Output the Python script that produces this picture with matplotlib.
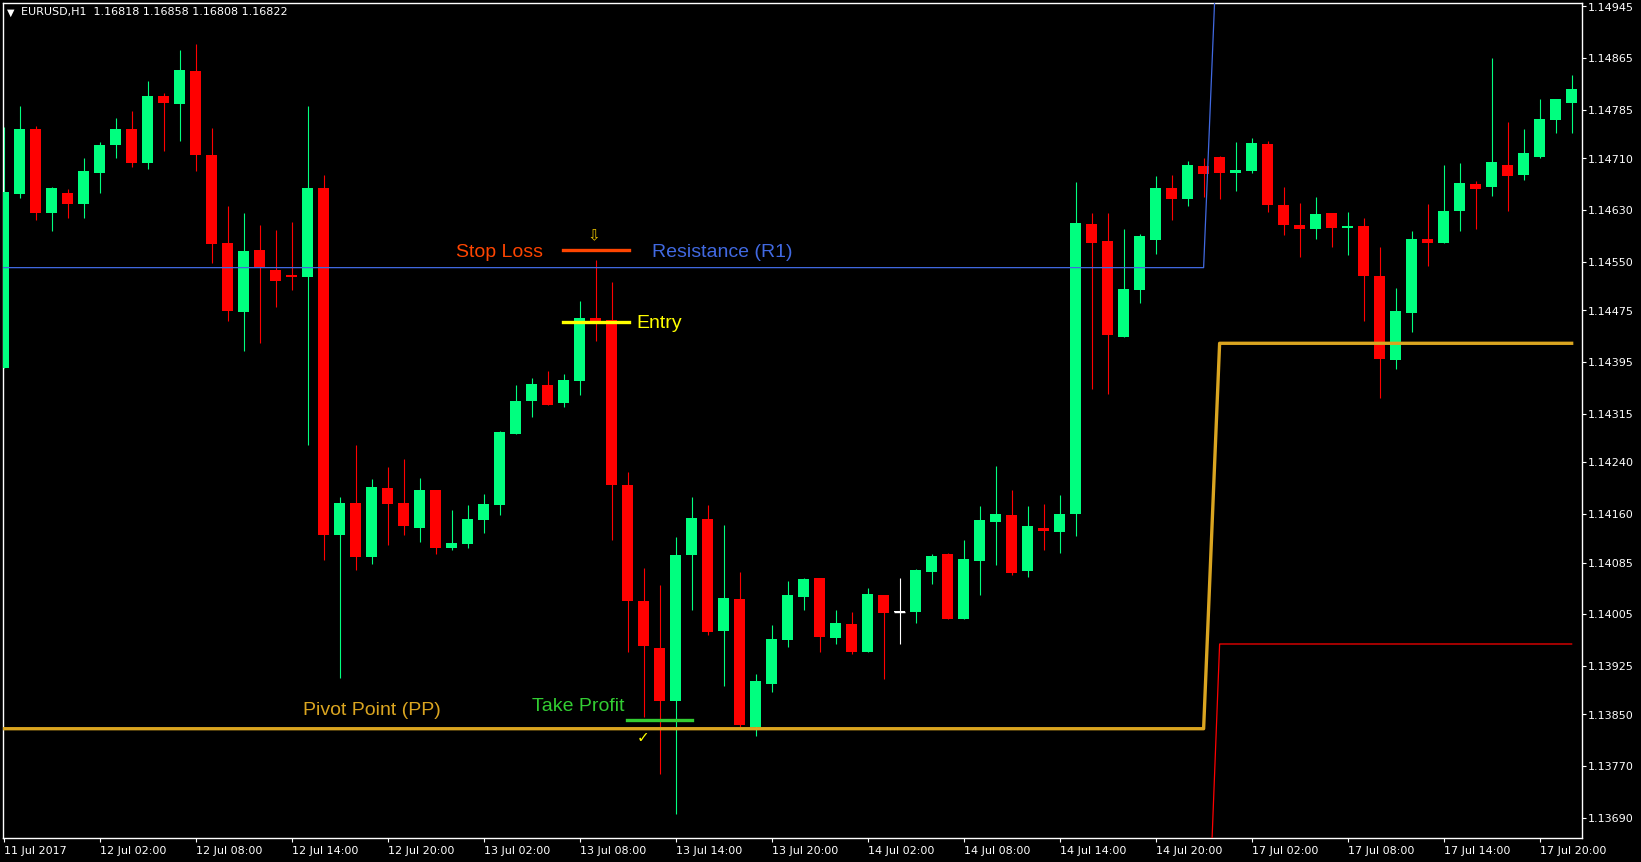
import numpy as np
import matplotlib
matplotlib.use("Agg")
import matplotlib.pyplot as plt

# EURUSD H1, 11 Jul 20:00 -> 17 Jul 22:00
opens = [1.14386, 1.14655, 1.14756, 1.14626, 1.14657, 1.14640, 1.14688, 1.14731, 1.14756, 1.14703,
         1.14807, 1.14794, 1.14845, 1.14715, 1.14579, 1.14472, 1.14568, 1.14537, 1.14530, 1.14526,
         1.14664, 1.14128, 1.14177, 1.14094, 1.14200, 1.14177, 1.14139, 1.14197, 1.14107, 1.14114,
         1.14151, 1.14174, 1.14284, 1.14334, 1.14360, 1.14331, 1.14366, 1.14463, 1.14460, 1.14205,
         1.14026, 1.13953, 1.13871, 1.14096, 1.14152, 1.13979, 1.14028, 1.13830, 1.13897, 1.13965,
         1.14032, 1.14061, 1.13969, 1.13990, 1.13946, 1.14035, 1.14008, 1.14008, 1.14070, 1.14098,
         1.13997, 1.14087, 1.14148, 1.14158, 1.14072, 1.14138, 1.14132, 1.14160, 1.14609, 1.14582,
         1.14434, 1.14506, 1.14584, 1.14664, 1.14647, 1.14698, 1.14712, 1.14688, 1.14691, 1.14732,
         1.14638, 1.14607, 1.14601, 1.14626, 1.14602, 1.14606, 1.14528, 1.14398, 1.14471, 1.14585,
         1.14579, 1.14629, 1.14671, 1.14666, 1.14700, 1.14684, 1.14712, 1.14770, 1.14796]
highs = [1.14758, 1.14791, 1.14760, 1.14665, 1.14663, 1.14711, 1.14735, 1.14773, 1.14783, 1.14830,
         1.14811, 1.14878, 1.14887, 1.14757, 1.14636, 1.14626, 1.14607, 1.14599, 1.14612, 1.14791,
         1.14685, 1.14187, 1.14266, 1.14214, 1.14233, 1.14245, 1.14216, 1.14197, 1.14166, 1.14174,
         1.14191, 1.14288, 1.14360, 1.14370, 1.14381, 1.14377, 1.14490, 1.14553, 1.14519, 1.14225,
         1.14076, 1.14050, 1.14124, 1.14187, 1.14174, 1.14143, 1.14070, 1.13912, 1.13988, 1.14056,
         1.14061, 1.14061, 1.14012, 1.14009, 1.14045, 1.14035, 1.14061, 1.14075, 1.14098, 1.14100,
         1.14120, 1.14172, 1.14234, 1.14197, 1.14172, 1.14175, 1.14189, 1.14674, 1.14626, 1.14626,
         1.14601, 1.14593, 1.14683, 1.14684, 1.14706, 1.14711, 1.14714, 1.14735, 1.14742, 1.14737,
         1.14666, 1.14641, 1.14650, 1.14626, 1.14627, 1.14618, 1.14573, 1.14510, 1.14598, 1.14640,
         1.14700, 1.14703, 1.14675, 1.14865, 1.14766, 1.14756, 1.14802, 1.14802, 1.14839]
lows = [1.14386, 1.14649, 1.14615, 1.14598, 1.14618, 1.14618, 1.14657, 1.14711, 1.14696, 1.14694,
        1.14722, 1.14737, 1.14691, 1.14548, 1.14459, 1.14412, 1.14424, 1.14480, 1.14506, 1.14266,
        1.14089, 1.13907, 1.14074, 1.14083, 1.14112, 1.14128, 1.14117, 1.14098, 1.14105, 1.14108,
        1.14130, 1.14159, 1.14284, 1.14310, 1.14329, 1.14325, 1.14344, 1.14427, 1.14120, 1.13947,
        1.13846, 1.13758, 1.13696, 1.14012, 1.13973, 1.13894, 1.13831, 1.13817, 1.13884, 1.13954,
        1.14012, 1.13947, 1.13959, 1.13943, 1.13946, 1.13905, 1.13959, 1.13991, 1.14052, 1.13997,
        1.13997, 1.14035, 1.14081, 1.14066, 1.14062, 1.14104, 1.14100, 1.14126, 1.14353, 1.14346,
        1.14434, 1.14486, 1.14562, 1.14615, 1.14636, 1.14650, 1.14647, 1.14660, 1.14688, 1.14627,
        1.14592, 1.14558, 1.14585, 1.14573, 1.14561, 1.14459, 1.14339, 1.14384, 1.14442, 1.14544,
        1.14579, 1.14598, 1.14601, 1.14652, 1.14629, 1.14677, 1.14711, 1.14749, 1.14749]
closes = [1.14658, 1.14756, 1.14626, 1.14664, 1.14640, 1.14691, 1.14731, 1.14756, 1.14703, 1.14807,
          1.14796, 1.14847, 1.14715, 1.14578, 1.14474, 1.14567, 1.14542, 1.14520, 1.14527, 1.14664,
          1.14128, 1.14177, 1.14094, 1.14202, 1.14176, 1.14142, 1.14197, 1.14107, 1.14115, 1.14152,
          1.14175, 1.14287, 1.14335, 1.14361, 1.14329, 1.14367, 1.14463, 1.14459, 1.14205, 1.14026,
          1.13956, 1.13871, 1.14096, 1.14154, 1.13977, 1.14030, 1.13833, 1.13902, 1.13966, 1.14035,
          1.14059, 1.13970, 1.13991, 1.13946, 1.14036, 1.14007, 1.14008, 1.14073, 1.14095, 1.13997,
          1.14090, 1.14151, 1.14160, 1.14069, 1.14141, 1.14134, 1.14160, 1.14610, 1.14579, 1.14437,
          1.14508, 1.14590, 1.14664, 1.14647, 1.14700, 1.14686, 1.14688, 1.14692, 1.14734, 1.14638,
          1.14607, 1.14601, 1.14624, 1.14602, 1.14606, 1.14528, 1.14400, 1.14474, 1.14585, 1.14579,
          1.14629, 1.14672, 1.14663, 1.14705, 1.14683, 1.14718, 1.14771, 1.14802, 1.14817]

time_labels = ["11 Jul 2017", "12 Jul 02:00", "12 Jul 08:00", "12 Jul 14:00", "12 Jul 20:00",
               "13 Jul 02:00", "13 Jul 08:00", "13 Jul 14:00", "13 Jul 20:00", "14 Jul 02:00",
               "14 Jul 08:00", "14 Jul 14:00", "14 Jul 20:00", "17 Jul 02:00", "17 Jul 08:00",
               "17 Jul 14:00", "17 Jul 20:00"]
price_ticks = [1.14945, 1.14865, 1.14785, 1.14710, 1.14630, 1.14550, 1.14475, 1.14395, 1.14315,
               1.14240, 1.14160, 1.14085, 1.14005, 1.13925, 1.13850, 1.13770, 1.13690]

# daily pivot levels (old day -> new day), switch between bar 75 and 76
pp_levels = [1.13828, 1.14424]
r1_levels = [1.14541, 1.15140]
s1_levels = [1.13320, 1.13959]
day_switch = 75

stop_loss = 1.14568
entry = 1.14457
take_profit = 1.13842

header = "EURUSD,H1  1.16818 1.16858 1.16808 1.16822"

W, H = 1641, 862
fig = plt.figure(figsize=(W / 100 + 0.002, H / 100 + 0.002), dpi=100, facecolor="black")
ax = fig.add_axes([2.7 / W, 1 - 838 / H, (1581.7 - 2.7) / W, (838 - 2.7) / H])
ax.set_facecolor("black")

o = np.array(opens)
h = np.array(highs)
l = np.array(lows)
c = np.array(closes)
x = np.arange(len(o))

up = "#00FF7F"
down = "#FF0000"
cols = np.where(c > o, up, np.where(c < o, down, "#FFFFFF"))

ax.vlines(x, l, h, colors=cols, linewidth=0.8, zorder=2)
body = np.maximum(np.abs(c - o), 1.5e-5)
ax.bar(x, body, bottom=np.minimum(o, c), width=0.6875, color=cols, linewidth=0, zorder=3)
flat = c == o
ax.hlines(o[flat], x[flat] - 0.34, x[flat] + 0.34, colors="white", linewidth=1, zorder=3)

# pivot lines
last = len(o) - 1
px = [-1, day_switch, day_switch + 1, last]
ax.plot(px, [r1_levels[0], r1_levels[0], r1_levels[1], r1_levels[1]], color="#4169E1", lw=0.9, zorder=4)
ax.plot(px, [s1_levels[0], s1_levels[0], s1_levels[1], s1_levels[1]], color="#FF0000", lw=0.9, zorder=4)
ax.plot(px, [pp_levels[0], pp_levels[0], pp_levels[1], pp_levels[1]], color="#DAA520", lw=2.4, zorder=4)

# trade markup
ax.plot([34.95, 39.07], [stop_loss, stop_loss], color="#FF4500", lw=2.4, zorder=5)
ax.plot([34.95, 39.07], [entry, entry], color="#FFFF00", lw=2.4, zorder=5)
ax.plot([38.95, 43.05], [take_profit, take_profit], color="#32CD32", lw=2.4, zorder=5)

lab = dict(family="Liberation Sans", fontsize=14, va="baseline", ha="left", zorder=6)
ax.text(28.28, 1.14558, "Stop Loss", color="#FF4500", **lab)
ax.text(40.53, 1.14558, "Resistance (R1)", color="#4169E1", **lab)
ax.text(39.58, 1.14448, "Entry", color="#FFFF00", **lab)
ax.text(18.7, 1.13849, "Pivot Point (PP)", color="#DAA520", **lab)
ax.text(33.01, 1.13855, "Take Profit", color="#32CD32", **lab)
ax.text(36.9, 1.14590, "\u21e9", color="#E8C000", fontsize=11, ha="center", va="center", zorder=6)
ax.text(39.95, 1.13814, "\u2713", color="#FFFF00", fontsize=11, ha="center", va="center", zorder=6)

ax.set_xlim(-0.05, 98.64)
ax.set_ylim(1.13659, 1.14951)

ax.set_xticks(np.arange(0, len(o), 6))
ax.set_xticklabels(time_labels, ha="left")
ax.yaxis.tick_right()
ax.set_yticks(price_ticks)
ax.set_yticklabels(["%.5f" % p for p in price_ticks])
ax.tick_params(colors="white", labelcolor="white", labelsize=8, length=3, width=0.8, pad=1.5)
ax.tick_params(axis="x", pad=2.5)
for lbl in ax.get_xticklabels() + ax.get_yticklabels():
    lbl.set_family("DejaVu Sans")
for s in ax.spines.values():
    s.set_color("white")
    s.set_linewidth(1)

fig.text(10.5 / W, 1 - 12.5 / H, "\u25bc", color="white", fontsize=7, ha="center", va="center")
fig.text(21 / W, 1 - 12.3 / H, header, color="white", fontsize=8, family="DejaVu Sans", va="center")

fig.savefig("out.png", dpi=100, facecolor="black")
